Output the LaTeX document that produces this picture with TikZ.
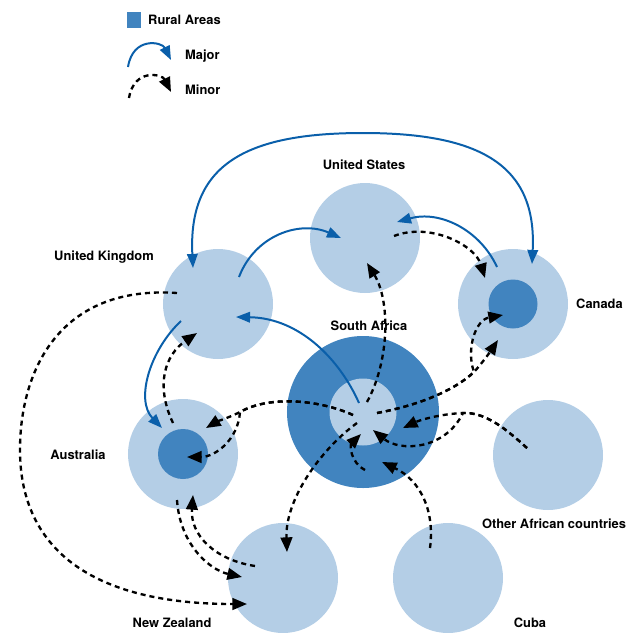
\documentclass[tikz,border=0pt]{standalone}
\usepackage{fontspec}
\setmainfont{TeX Gyre Heros}
\usepackage{tikz}
\usetikzlibrary{arrows.meta, positioning}
\definecolor{urbanarea}{RGB}{180,206,230}
\definecolor{ruralarea}{RGB}{65,132,191}
\definecolor{majorblue}{RGB}{10,95,170}
\tikzstyle{country} = [circle, fill=urbanarea, minimum size=3.3cm, inner sep=0pt]
\tikzstyle{rural} = [circle, fill=ruralarea, inner sep=0pt]
\tikzstyle{countryname} = [font=\fontsize{11}{13}\selectfont\bfseries, inner sep=0pt]
\tikzstyle{majorflow} = [draw=majorblue, line width=1.7pt, -{Triangle[length=12pt,width=9pt]}]
\tikzstyle{minorflow} = [draw=black, line width=2pt, dash pattern=on 4.3pt off 3.4pt, -{Triangle[length=12.5pt,width=10pt]}]

\begin{document}
\begin{tikzpicture}[x=0.03cm, y=-0.03cm]
\useasboundingbox (0,0) rectangle (639,632);

% legend
\node (key) [fill=ruralarea, minimum width=0.42cm, minimum height=0.46cm, inner sep=0pt] at (134,20) {};
\node (keytext) [countryname, anchor=west] at (148,20) {Rural Areas};
\node (majtext) [countryname, anchor=west] at (185,56) {Major};
\node (mintext) [countryname, anchor=west] at (185,90) {Minor};
\coordinate (majA) at (128,67);
\coordinate (majB) at (171,60);
\coordinate (minA) at (129,98);
\coordinate (minB) at (171,92);
\draw [majorflow] (majA) .. controls (133,36) and (162,42) .. (majB);
\draw [minorflow] (minA) .. controls (134,68) and (162,74) .. (minB);

% countries
\node (us) [country] at (365,238) {};
\node (uk) [country] at (218,304) {};
\node (ca) [country] at (513,304) {};
\node (caR) [rural, minimum size=1.47cm] at (ca) {};
\node (sa) [rural, minimum size=4.56cm] at (363,412) {};
\node (saU) [country, minimum size=2.01cm] at (sa) {};
\node (au) [country] at (183,454) {};
\node (auR) [rural, minimum size=1.5cm] at (au) {};
\node (oa) [country] at (548,455) {};
\node (nz) [country] at (283,578) {};
\node (cu) [country] at (448,578) {};

\node (usname) [countryname] at (364,165) {United States};
\node (ukname) [countryname] at (104,257) {United Kingdom};
\node (caname) [countryname, anchor=west] at (576,304) {Canada};
\node (saname) [countryname] at (369,326) {South Africa};
\node (auname) [countryname] at (78,455) {Australia};
\node (oaname) [countryname] at (554,524) {Other African countries};
\node (nzname) [countryname] at (172,623) {New Zealand};
\node (cuname) [countryname] at (530,623) {Cuba};

% ports
\coordinate (ukTop) at (193,268);
\coordinate (caTop) at (532,264);
\coordinate (ukUS) at (239,277);
\coordinate (usW) at (341,238);
\coordinate (caUS) at (497,267);
\coordinate (usE) at (397,222);
\coordinate (saUK) at (359,403);
\coordinate (ukE) at (236,317);
\coordinate (ukAU) at (181,321);
\coordinate (auN) at (162,428);

\coordinate (usCA) at (394,236);
\coordinate (caN) at (485,278);
\coordinate (saUS) at (367,402);
\coordinate (usS) at (367,263);
\coordinate (saCA) at (377,413);
\coordinate (jCA) at (474,372);
\coordinate (caSW) at (498,340);
\coordinate (caRW) at (503,315);
\coordinate (saAU) at (353,415);
\coordinate (jAU) at (240,412);
\coordinate (auNE) at (206,428);
\coordinate (auRE) at (187,457);
\coordinate (saNZ) at (357,423);
\coordinate (nzN) at (287,552);
\coordinate (oaW) at (527,448);
\coordinate (jOA) at (463,413);
\coordinate (saE) at (403,428);
\coordinate (saUE) at (373,430);
\coordinate (cuN) at (430,548);
\coordinate (saS) at (382,462);
\coordinate (saSr) at (365,470);
\coordinate (saUS2) at (361,434);
\coordinate (auUK) at (173,423);
\coordinate (ukS) at (197,333);
\coordinate (ukW) at (177,293);
\coordinate (farW) at (20,450);
\coordinate (nzW) at (247,604);
\coordinate (auS) at (177,500);
\coordinate (nzNW) at (242,577);
\coordinate (nzAU) at (255,566);
\coordinate (auSE) at (193,495);

% major flows
\draw [majorflow, {Triangle[length=12pt,width=9pt]}-{Triangle[length=12pt,width=9pt]}] (ukTop) .. controls (188,165) and (245,133) .. (363,133) .. controls (480,133) and (537,165) .. (caTop);
\draw [majorflow] (ukUS) .. controls (255,235) and (300,220) .. (usW);
\draw [majorflow] (caUS) .. controls (480,230) and (440,210) .. (usE);
\draw [majorflow] (saUK) .. controls (340,360) and (300,318) .. (ukE);
\draw [majorflow] (ukAU) .. controls (150,350) and (135,400) .. (auN);

% minor flows
\draw [minorflow] (usCA) .. controls (430,222) and (475,245) .. (caN);
\draw [minorflow] (saUS) .. controls (390,360) and (390,300) .. (usS);
\draw [minorflow] (saCA) .. controls (420,405) and (455,390) .. (jCA) .. controls (483,362) and (490,352) .. (caSW);
\draw [minorflow] (saCA) .. controls (420,405) and (455,390) .. (jCA) .. controls (466,350) and (475,320) .. (caRW);
\draw [minorflow] (saAU) .. controls (320,400) and (270,395) .. (jAU) .. controls (228,418) and (216,422) .. (auNE);
\draw [minorflow] (saAU) .. controls (320,400) and (270,395) .. (jAU) .. controls (238,440) and (215,457) .. (auRE);
\draw [minorflow] (saNZ) .. controls (320,450) and (285,500) .. (nzN);
\draw [minorflow] (oaW) .. controls (505,428) and (485,412) .. (jOA) .. controls (440,414) and (420,420) .. (saE);
\draw [minorflow] (oaW) .. controls (505,428) and (485,412) .. (jOA) .. controls (445,450) and (400,452) .. (saUE);
\draw [minorflow] (cuN) .. controls (435,510) and (420,480) .. (saS);
\draw [minorflow] (saSr) .. controls (350,462) and (350,445) .. (saUS2);
\draw [minorflow] (auUK) .. controls (155,385) and (165,355) .. (ukS);
\draw [minorflow] (ukW) .. controls (60,285) and (20,370) .. (farW) .. controls (20,540) and (80,604) .. (nzW);
\draw [minorflow] (auS) .. controls (180,545) and (210,570) .. (nzNW);
\draw [minorflow] (nzAU) .. controls (215,560) and (190,535) .. (auSE);

\end{tikzpicture}
\end{document}
